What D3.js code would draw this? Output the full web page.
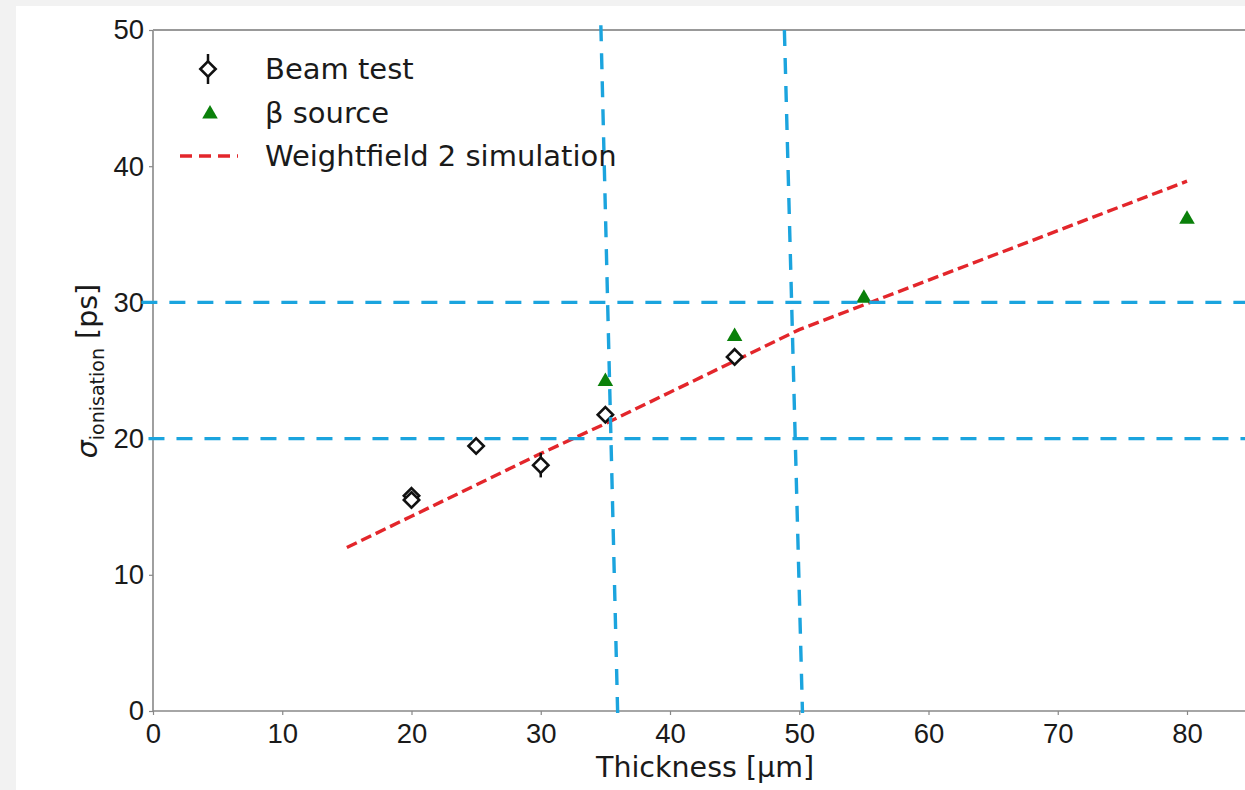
<!DOCTYPE html>
<html>
<head>
<meta charset="utf-8">
<script src="https://cdn.jsdelivr.net/npm/d3@7"></script>
<style>
  body { margin: 0; background: #f2f2f2; }
  svg { display: block; font-family: "DejaVu Sans", sans-serif; }
  .tick text { fill: #1a1a1a; }
</style>
</head>
<body>
<div id="chart"></div>
<script>
// Beam test points (two overlapping measurements at 20 µm)
const beamX = [20, 20, 25, 30, 35, 45];
const beamY = [15.8, 15.5, 19.45, 18.05, 21.75, 26.0];
const beamErr = [0.4, 0.4, 0.4, 0.9, 0.5, 0.4];

// beta source points
const betaX = [35, 45, 55, 80];
const betaY = [24.2, 27.5, 30.3, 36.1];

// Weightfield 2 simulation curve
const simX = [15, 20, 25, 30, 35, 40, 45, 50, 80];
const simY = [12.0, 14.3, 16.6, 18.9, 21.1, 23.4, 25.7, 28.0, 38.9];

// overlaid blue guide lines, in data units
const hGuides = [{ y: 30, x1: -0.9, x2: 85 }, { y: 20, x1: -0.35, x2: 85 }];
const vGuides = [
  { x1: 34.65, y1: 50.35, x2: 35.95, y2: -0.15 },
  { x1: 48.85, y1: 50.0, x2: 50.25, y2: -0.15 }
];

const xTicks = [0, 10, 20, 30, 40, 50, 60, 70, 80];
const yTicks = [0, 10, 20, 30, 40, 50];

const W = 1245, H = 790;
const svg = d3.select("#chart").append("svg")
  .attr("width", W)
  .attr("height", H);

// white figure area
svg.append("rect")
  .attr("x", 16).attr("y", 6)
  .attr("width", W - 16).attr("height", H - 6)
  .attr("fill", "#fff");

const x = d3.scaleLinear().domain([0, 80]).range([153, 1187]);
const y = d3.scaleLinear().domain([0, 50]).range([711, 30]);

// axes
const xAxis = svg.append("g")
  .attr("transform", `translate(0,${y(0)})`)
  .call(d3.axisBottom(x).tickValues(xTicks).tickSize(4).tickSizeOuter(0).tickPadding(7));
const yAxis = svg.append("g")
  .attr("transform", `translate(${x(0)},0)`)
  .call(d3.axisLeft(y).tickValues(yTicks).tickSize(4).tickSizeOuter(0).tickPadding(5));

[xAxis, yAxis].forEach(a => {
  a.select(".domain").remove();
  a.selectAll(".tick line").attr("stroke", "#888").attr("stroke-width", 1.2);
  a.selectAll(".tick text").style("font-size", "27.5px");
});
xAxis.selectAll(".tick text").attr("dy", "0.75em");

// spines
svg.append("line")
  .attr("x1", x(0)).attr("x2", W)
  .attr("y1", y(0)).attr("y2", y(0))
  .attr("stroke", "#888").attr("stroke-width", 1.6);
svg.append("line")
  .attr("x1", x(0)).attr("x2", x(0))
  .attr("y1", y(0)).attr("y2", y(50))
  .attr("stroke", "#888").attr("stroke-width", 1.6);
svg.append("line")
  .attr("x1", x(0)).attr("x2", W)
  .attr("y1", y(50)).attr("y2", y(50))
  .attr("stroke", "#999").attr("stroke-width", 2);

// axis labels
svg.append("text")
  .attr("x", 705).attr("y", 777)
  .attr("text-anchor", "middle")
  .attr("fill", "#1a1a1a")
  .style("font-size", "28.5px")
  .text("Thickness [µm]");

const yl = svg.append("text")
  .attr("transform", "translate(97,371) rotate(-90)")
  .attr("text-anchor", "middle")
  .attr("fill", "#1a1a1a")
  .style("font-size", "28.5px");
yl.append("tspan").style("font-style", "italic").text("σ");
yl.append("tspan").attr("dy", 7).style("font-size", "19px").text("ionisation");
yl.append("tspan").attr("dy", -7).text(" [ps]");

// simulation line
const simData = simX.map((v, i) => [v, simY[i]]);
svg.append("path")
  .datum(simData)
  .attr("d", d3.line().x(d => x(d[0])).y(d => y(d[1])))
  .attr("fill", "none")
  .attr("stroke", "#e3262b")
  .attr("stroke-width", 3.4)
  .attr("stroke-dasharray", "11,5");

// beam test: error bars + open diamonds
const diamond = d3.symbol().type(d3.symbolDiamond2).size(150);
const beam = beamX.map((v, i) => ({ x: v, y: beamY[i], e: beamErr[i] }));
svg.append("g").selectAll("line")
  .data(beam)
  .join("line")
  .attr("x1", d => x(d.x)).attr("x2", d => x(d.x))
  .attr("y1", d => y(d.y - d.e)).attr("y2", d => y(d.y + d.e))
  .attr("stroke", "#111").attr("stroke-width", 2.5);
svg.append("g").selectAll("path")
  .data(beam)
  .join("path")
  .attr("transform", d => `translate(${x(d.x)},${y(d.y)})`)
  .attr("d", diamond)
  .attr("fill", "#fff")
  .attr("stroke", "#111")
  .attr("stroke-width", 2.6);

// beta source triangles
const tri = d3.symbol().type(d3.symbolTriangle).size(105);
svg.append("g").selectAll("path")
  .data(betaX.map((v, i) => ({ x: v, y: betaY[i] })))
  .join("path")
  .attr("transform", d => `translate(${x(d.x)},${y(d.y)})`)
  .attr("d", tri)
  .attr("fill", "#0a800a");

// blue guides
const blue = "#1ba4de";
svg.append("g").selectAll("line")
  .data(hGuides)
  .join("line")
  .attr("x1", d => x(d.x1)).attr("x2", d => x(d.x2))
  .attr("y1", d => y(d.y)).attr("y2", d => y(d.y))
  .attr("stroke", blue).attr("stroke-width", 3.4)
  .attr("stroke-dasharray", "16,12");
svg.append("g").selectAll("line")
  .data(vGuides)
  .join("line")
  .attr("x1", d => x(d.x1)).attr("x2", d => x(d.x2))
  .attr("y1", d => y(d.y1)).attr("y2", d => y(d.y2))
  .attr("stroke", blue).attr("stroke-width", 3.4)
  .attr("stroke-dasharray", "16,12");

// legend
const lg = svg.append("g");
lg.append("line")
  .attr("x1", 208).attr("x2", 208).attr("y1", 54).attr("y2", 84)
  .attr("stroke", "#111").attr("stroke-width", 2.5);
lg.append("path")
  .attr("transform", "translate(208,69)")
  .attr("d", diamond)
  .attr("fill", "#fff").attr("stroke", "#111").attr("stroke-width", 2.6);
lg.append("path")
  .attr("transform", "translate(210,114)")
  .attr("d", tri)
  .attr("fill", "#0a800a");
lg.append("line")
  .attr("x1", 180).attr("x2", 238).attr("y1", 156).attr("y2", 156)
  .attr("stroke", "#e3262b").attr("stroke-width", 3.4)
  .attr("stroke-dasharray", "12,7");

const labels = ["Beam test", "β source", "Weightfield 2 simulation"];
lg.selectAll("text")
  .data(labels)
  .join("text")
  .attr("x", 265)
  .attr("y", (d, i) => 69 + i * 43.5)
  .attr("dy", "0.35em")
  .attr("fill", "#1a1a1a")
  .style("font-size", "29px")
  .text(d => d);
</script>
</body>
</html>
